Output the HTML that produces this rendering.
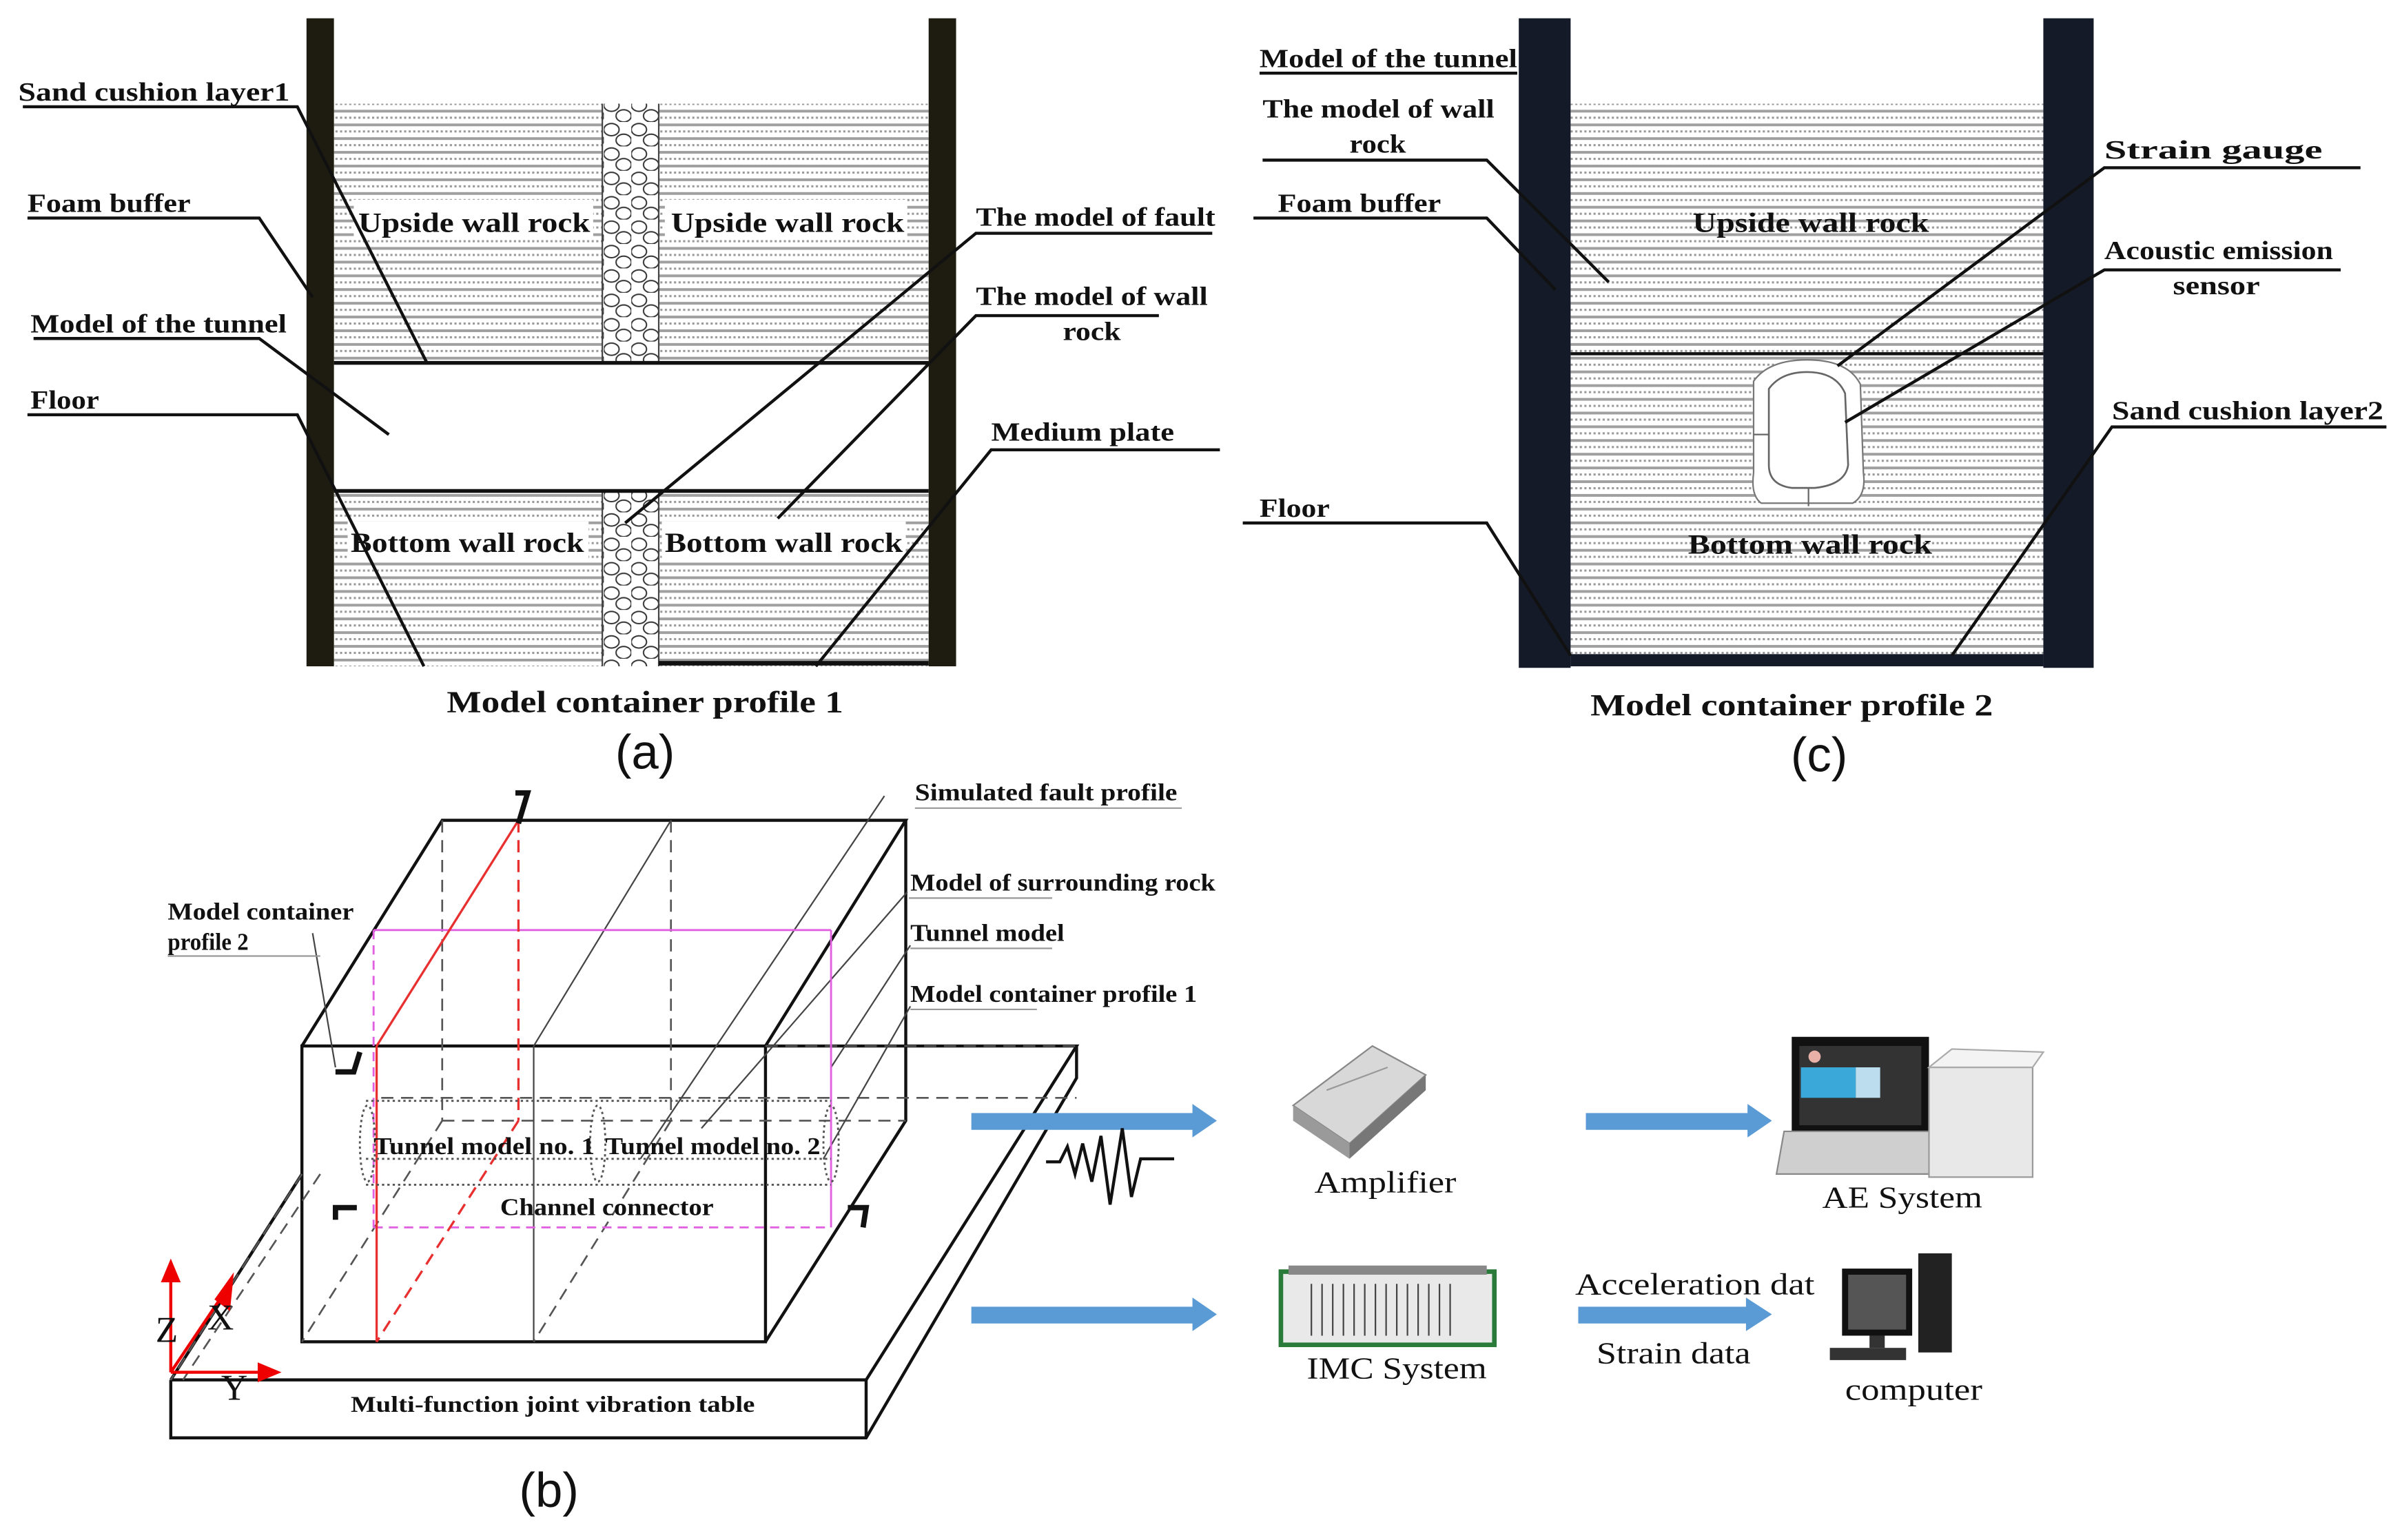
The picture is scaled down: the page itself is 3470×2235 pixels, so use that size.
<!DOCTYPE html>
<html><head><meta charset="utf-8"><style>
html,body{margin:0;padding:0;background:#fff}
svg{display:block}
text{font-family:"Liberation Serif",serif;font-weight:bold;fill:#111}
text.n{font-weight:normal}
.s{font-family:"Liberation Sans",sans-serif;font-weight:normal}
</style></head><body>
<svg width="3470" height="2235" viewBox="0 0 1568 1010" preserveAspectRatio="none" xmlns="http://www.w3.org/2000/svg">
<defs>
<pattern id="rk" width="12" height="9" patternUnits="userSpaceOnUse">
<rect width="12" height="9" fill="#fff"/>
<rect y="0" width="12" height="1.8" fill="#a0a0a0"/>
<rect x="1" y="4.5" width="1.4" height="1.4" fill="#999"/>
<rect x="4" y="4.5" width="1.4" height="1.4" fill="#999"/>
<rect x="7" y="4.5" width="1.4" height="1.4" fill="#999"/>
<rect x="10" y="4.5" width="1.4" height="1.4" fill="#999"/>
</pattern>
<pattern id="gr" width="18" height="16" patternUnits="userSpaceOnUse">
<rect width="18" height="16" fill="#fff"/>
<ellipse cx="5" cy="5" rx="5" ry="4" fill="none" stroke="#333" stroke-width="0.9"/>
<ellipse cx="13" cy="12" rx="5" ry="4" fill="none" stroke="#333" stroke-width="0.9"/>
</pattern>
</defs>

<!-- ===== Panel (a) ===== -->
<rect x="219" y="68" width="390" height="170" fill="url(#rk)"/>
<rect x="219" y="322" width="390" height="115" fill="url(#rk)"/>
<rect x="395" y="68" width="37" height="170" fill="url(#gr)"/>
<rect x="395" y="322" width="37" height="115" fill="url(#gr)"/>
<line x1="395" y1="68" x2="395" y2="238" stroke="#444" stroke-width="1"/>
<line x1="432" y1="68" x2="432" y2="238" stroke="#444" stroke-width="1"/>
<line x1="395" y1="322" x2="395" y2="437" stroke="#444" stroke-width="1"/>
<line x1="432" y1="322" x2="432" y2="437" stroke="#444" stroke-width="1"/>
<rect x="201" y="12" width="18" height="425" fill="#1e1c10"/>
<rect x="609" y="12" width="18" height="425" fill="#1e1c10"/>
<line x1="219" y1="238" x2="609" y2="238" stroke="#111" stroke-width="2.5"/>
<line x1="219" y1="322" x2="609" y2="322" stroke="#111" stroke-width="2.5"/>
<line x1="432" y1="435" x2="609" y2="435" stroke="#111" stroke-width="3"/>
<rect x="232" y="131" width="157" height="24" fill="#fff"/>
<rect x="436" y="131" width="159" height="24" fill="#fff"/>
<rect x="228" y="342" width="158" height="24" fill="#fff"/>
<rect x="434" y="342" width="160" height="24" fill="#fff"/>
<text x="235" y="152" font-size="18" textLength="152" lengthAdjust="spacingAndGlyphs">Upside  wall  rock</text>
<text x="440" y="152" font-size="18" textLength="153" lengthAdjust="spacingAndGlyphs">Upside  wall  rock</text>
<text x="230" y="362" font-size="18" textLength="153" lengthAdjust="spacingAndGlyphs">Bottom wall  rock</text>
<text x="436" y="362" font-size="18" textLength="156" lengthAdjust="spacingAndGlyphs">Bottom  wall  rock</text>
<g stroke="#111" stroke-width="2" fill="none">
<polyline points="15,70 195,70 280,238"/>
<polyline points="18,143 170,143 205,195"/>
<polyline points="22,222 170,222 255,285"/>
<polyline points="18,272 195,272 278,437"/>
<polyline points="795,153 640,153 410,343"/>
<polyline points="760,207 640,207 510,340"/>
<polyline points="800,295 650,295 535,437"/>
</g>
<g font-size="17">
<text x="12" y="66" textLength="178" lengthAdjust="spacingAndGlyphs">Sand cushion layer1</text>
<text x="18" y="139" textLength="107" lengthAdjust="spacingAndGlyphs">Foam buffer</text>
<text x="20" y="218" textLength="168" lengthAdjust="spacingAndGlyphs">Model of the tunnel</text>
<text x="20" y="268" textLength="45" lengthAdjust="spacingAndGlyphs">Floor</text>
<text x="640" y="148" textLength="157" lengthAdjust="spacingAndGlyphs">The model of fault</text>
<text x="640" y="200" textLength="152" lengthAdjust="spacingAndGlyphs">The model of wall</text>
<text x="697" y="223" textLength="38" lengthAdjust="spacingAndGlyphs">rock</text>
<text x="650" y="289" textLength="120" lengthAdjust="spacingAndGlyphs">Medium plate</text>
</g>
<text x="293" y="467" font-size="20" textLength="260" lengthAdjust="spacingAndGlyphs">Model container profile 1</text>
<text x="423" y="504" font-size="32" text-anchor="middle" class="s">(a)</text>

<!-- ===== Panel (c) ===== -->
<rect x="1030" y="68" width="310" height="364" fill="url(#rk)"/>
<line x1="1030" y1="232" x2="1340" y2="232" stroke="#111" stroke-width="2"/>
<path d="M1150,250 Q1160,236 1185,236 Q1212,236 1220,252 L1222,310 Q1224,325 1215,330 L1155,330 Q1148,325 1150,310 Z" fill="#fff" stroke="#777" stroke-width="1"/>
<path d="M1160,255 Q1168,244 1185,244 Q1204,244 1210,258 L1212,305 Q1210,318 1190,320 L1175,320 Q1160,318 1160,305 Z" fill="#fff" stroke="#666" stroke-width="1.2"/>
<line x1="1186" y1="320" x2="1186" y2="332" stroke="#666"/>
<line x1="1150" y1="285" x2="1160" y2="285" stroke="#666"/>
<rect x="996" y="12" width="34" height="426" fill="#141a28"/>
<rect x="1340" y="12" width="33" height="426" fill="#141a28"/>
<rect x="1030" y="429" width="310" height="8" fill="#141a28"/>
<text x="1110" y="152" font-size="18" textLength="155" lengthAdjust="spacingAndGlyphs">Upside  wall  rock</text>
<text x="1107" y="363" font-size="18" textLength="160" lengthAdjust="spacingAndGlyphs">Bottom  wall  rock</text>
<g stroke="#111" stroke-width="2" fill="none">
<line x1="826" y1="48" x2="995" y2="48"/>
<polyline points="828,105 975,105 1055,185"/>
<polyline points="822,143 975,143 1020,190"/>
<polyline points="815,343 975,343 1030,430"/>
<polyline points="1548,110 1380,110 1205,240"/>
<polyline points="1535,177 1380,177 1210,277"/>
<polyline points="1565,280 1385,280 1280,430"/>
</g>
<g font-size="17">
<text x="826" y="44" textLength="169" lengthAdjust="spacingAndGlyphs">Model of the tunnel</text>
<text x="828" y="77" textLength="152" lengthAdjust="spacingAndGlyphs">The model of wall</text>
<text x="885" y="100" textLength="37" lengthAdjust="spacingAndGlyphs">rock</text>
<text x="838" y="139" textLength="107" lengthAdjust="spacingAndGlyphs">Foam buffer</text>
<text x="826" y="339" textLength="46" lengthAdjust="spacingAndGlyphs">Floor</text>
<text x="1380" y="104" textLength="143" lengthAdjust="spacingAndGlyphs">Strain gauge</text>
<text x="1380" y="170" textLength="150" lengthAdjust="spacingAndGlyphs">Acoustic emission</text>
<text x="1425" y="193" textLength="57" lengthAdjust="spacingAndGlyphs">sensor</text>
<text x="1385" y="275" textLength="178" lengthAdjust="spacingAndGlyphs">Sand cushion layer2</text>
</g>
<text x="1043" y="469" font-size="20" textLength="264" lengthAdjust="spacingAndGlyphs">Model container profile 2</text>
<text x="1193" y="506" font-size="32" text-anchor="middle" class="s">(c)</text>

<!-- ===== Panel (b) ===== -->
<g fill="none" stroke="#111" stroke-width="2">
<polyline points="112,905 568,905 706,686 502,686"/>
<polyline points="112,905 112,943 568,943 706,707 706,686"/>
<line x1="568" y1="905" x2="568" y2="943"/>
<line x1="112" y1="905" x2="198" y2="770"/>
<rect x="198" y="686" width="304" height="194"/>
<polyline points="198,686 290,538 594,538 502,686"/>
<polyline points="594,538 594,735 502,880"/>
</g>
<g fill="none" stroke="#555" stroke-width="1.2" stroke-dasharray="8,5">
<line x1="290" y1="538" x2="290" y2="735"/>
<line x1="440" y1="538" x2="440" y2="735"/>
<line x1="502" y1="686" x2="706" y2="686"/>
<line x1="250" y1="720" x2="706" y2="720"/>
<line x1="290" y1="735" x2="594" y2="735"/>
<line x1="290" y1="735" x2="198" y2="880"/>
<line x1="198" y1="770" x2="112" y2="905"/>
<line x1="440" y1="735" x2="350" y2="880"/>
<line x1="210" y1="770" x2="120" y2="905"/>
</g>
<g stroke="#444" stroke-width="1" fill="none">
<line x1="440" y1="538" x2="350" y2="686"/>
<line x1="350" y1="686" x2="350" y2="880"/>
<line x1="580" y1="522" x2="420" y2="760"/>
<line x1="595" y1="585" x2="460" y2="740"/>
<line x1="597" y1="620" x2="545" y2="700"/>
<line x1="597" y1="660" x2="540" y2="760"/>
<line x1="205" y1="612" x2="220" y2="700"/>
</g>
<g fill="none" stroke="#e060e0" stroke-width="1.3">
<line x1="245" y1="610" x2="545" y2="610"/>
<line x1="545" y1="610" x2="545" y2="805"/>
<line x1="245" y1="805" x2="545" y2="805" stroke-dasharray="6,4"/>
<line x1="245" y1="610" x2="245" y2="805" stroke-dasharray="6,4"/>
</g>
<g fill="none" stroke="#e83030" stroke-width="1.5">
<line x1="340" y1="538" x2="247" y2="686"/>
<line x1="247" y1="686" x2="247" y2="880"/>
<line x1="340" y1="538" x2="340" y2="735" stroke-dasharray="8,5"/>
<line x1="340" y1="735" x2="247" y2="880" stroke-dasharray="8,5"/>
</g>
<g fill="none" stroke="#555" stroke-width="1.3" stroke-dasharray="1.5,2">
<line x1="240" y1="722" x2="545" y2="722"/>
<line x1="240" y1="760" x2="545" y2="760"/>
<line x1="240" y1="777" x2="545" y2="777"/>
<ellipse cx="241" cy="750" rx="5" ry="25"/>
<ellipse cx="392" cy="750" rx="5" ry="25"/>
<ellipse cx="545" cy="750" rx="5" ry="25"/>
</g>
<g stroke="#111" stroke-width="3.5" fill="none">
<polyline points="338,520 346,520 340,540"/>
<polyline points="220,703 232,703 236,690"/>
<polyline points="220,800 220,792 234,792"/>
<polyline points="556,792 568,792 566,805"/>
</g>
<g font-size="16">
<text x="245" y="757" textLength="145" lengthAdjust="spacingAndGlyphs">Tunnel model no. 1</text>
<text x="397" y="757" textLength="141" lengthAdjust="spacingAndGlyphs">Tunnel model no. 2</text>
<text x="328" y="797" textLength="140" lengthAdjust="spacingAndGlyphs">Channel connector</text>
<text x="230" y="926" font-size="15" textLength="265" lengthAdjust="spacingAndGlyphs">Multi-function joint vibration table</text>
<text x="110" y="603" textLength="122" lengthAdjust="spacingAndGlyphs">Model container</text>
<text x="110" y="623" textLength="53" lengthAdjust="spacingAndGlyphs">profile 2</text>
<text x="600" y="525" textLength="172" lengthAdjust="spacingAndGlyphs">Simulated fault profile</text>
<text x="597" y="584" textLength="200" lengthAdjust="spacingAndGlyphs">Model of surrounding rock</text>
<text x="597" y="617" textLength="101" lengthAdjust="spacingAndGlyphs">Tunnel model</text>
<text x="597" y="657" textLength="188" lengthAdjust="spacingAndGlyphs">Model container profile 1</text>
</g>
<g stroke="#999" stroke-width="1">
<line x1="110" y1="627" x2="210" y2="627"/>
<line x1="600" y1="530" x2="775" y2="530"/>
<line x1="596" y1="589" x2="690" y2="589"/>
<line x1="597" y1="622" x2="690" y2="622"/>
<line x1="597" y1="662" x2="680" y2="662"/>
</g>
<g stroke="#e00" stroke-width="2" fill="#e00">
<line x1="112" y1="900" x2="112" y2="838"/>
<polygon points="107,840 112,828 117,840"/>
<line x1="112" y1="900" x2="147" y2="848"/>
<polygon points="142,852 152,838 150,858"/>
<line x1="112" y1="900" x2="172" y2="900"/>
<polygon points="170,895 182,900 170,905"/>
</g>
<text class="n" x="102" y="880" font-size="24">Z</text>
<text class="n" x="136" y="872" font-size="24">X</text>
<text class="n" x="145" y="918" font-size="24">Y</text>
<text x="360" y="988" font-size="32" text-anchor="middle" class="s">(b)</text>

<g fill="#5b9bd5">
<rect x="637" y="730" width="148" height="11"/><polygon points="782,724 798,735 782,746"/>
<rect x="1040" y="730" width="108" height="11"/><polygon points="1146,724 1162,735 1146,746"/>
<rect x="637" y="857" width="148" height="11"/><polygon points="782,851 798,862 782,873"/>
<rect x="1035" y="857" width="112" height="11"/><polygon points="1145,851 1162,862 1145,873"/>
</g>
<polyline points="686,762 695,762 700,752 705,770 710,750 716,775 722,745 728,790 736,740 742,785 748,760 770,760" fill="none" stroke="#111" stroke-width="2"/>

<g>
<polygon points="848,725 900,686 935,705 885,750" fill="#d8d8d8" stroke="#888"/>
<polygon points="848,725 885,750 885,760 848,735" fill="#9a9a9a"/>
<polygon points="885,750 935,705 935,715 885,760" fill="#777"/>
<line x1="870" y1="715" x2="910" y2="700" stroke="#999"/>
</g>
<text class="n" x="862" y="782" font-size="20" textLength="93" lengthAdjust="spacingAndGlyphs">Amplifier</text>
<g>
<rect x="1175" y="680" width="90" height="62" fill="#111"/>
<rect x="1180" y="686" width="80" height="52" fill="#333"/>
<rect x="1181" y="700" width="36" height="20" fill="#3aa8d8"/>
<rect x="1217" y="700" width="16" height="20" fill="#bde"/>
<circle cx="1190" cy="693" r="4" fill="#e9b0a8"/>
<polygon points="1170,742 1270,742 1278,770 1165,770" fill="#cfcfcf" stroke="#888"/>
<rect x="1265" y="700" width="68" height="72" fill="#e8e8e8" stroke="#999"/>
<polygon points="1265,700 1280,688 1340,690 1333,700" fill="#f3f3f3" stroke="#aaa"/>
</g>
<text class="n" x="1195" y="792" font-size="20" textLength="105" lengthAdjust="spacingAndGlyphs">AE System</text>
<g>
<rect x="840" y="834" width="140" height="48" fill="#e9e9e9" stroke="#2a7a3a" stroke-width="3"/>
<rect x="845" y="830" width="130" height="6" fill="#888"/>
<g stroke="#444" stroke-width="1">
<line x1="860" y1="842" x2="860" y2="876"/><line x1="867" y1="842" x2="867" y2="876"/><line x1="874" y1="842" x2="874" y2="876"/><line x1="881" y1="842" x2="881" y2="876"/><line x1="888" y1="842" x2="888" y2="876"/><line x1="895" y1="842" x2="895" y2="876"/><line x1="902" y1="842" x2="902" y2="876"/><line x1="909" y1="842" x2="909" y2="876"/><line x1="916" y1="842" x2="916" y2="876"/><line x1="923" y1="842" x2="923" y2="876"/><line x1="930" y1="842" x2="930" y2="876"/><line x1="937" y1="842" x2="937" y2="876"/><line x1="944" y1="842" x2="944" y2="876"/><line x1="951" y1="842" x2="951" y2="876"/>
</g>
</g>
<text class="n" x="857" y="904" font-size="20" textLength="118" lengthAdjust="spacingAndGlyphs">IMC System</text>
<text class="n" x="1033" y="849" font-size="20" textLength="157" lengthAdjust="spacingAndGlyphs">Acceleration dat</text>
<text class="n" x="1047" y="894" font-size="20" textLength="101" lengthAdjust="spacingAndGlyphs">Strain data</text>
<g>
<rect x="1208" y="832" width="46" height="44" fill="#111"/>
<rect x="1212" y="836" width="38" height="36" fill="#555"/>
<rect x="1226" y="876" width="10" height="8" fill="#333"/>
<rect x="1200" y="884" width="50" height="8" fill="#333"/>
<rect x="1258" y="822" width="22" height="65" fill="#222"/>
</g>
<text class="n" x="1210" y="918" font-size="20" textLength="90" lengthAdjust="spacingAndGlyphs">computer</text>
</svg>
</body></html>
